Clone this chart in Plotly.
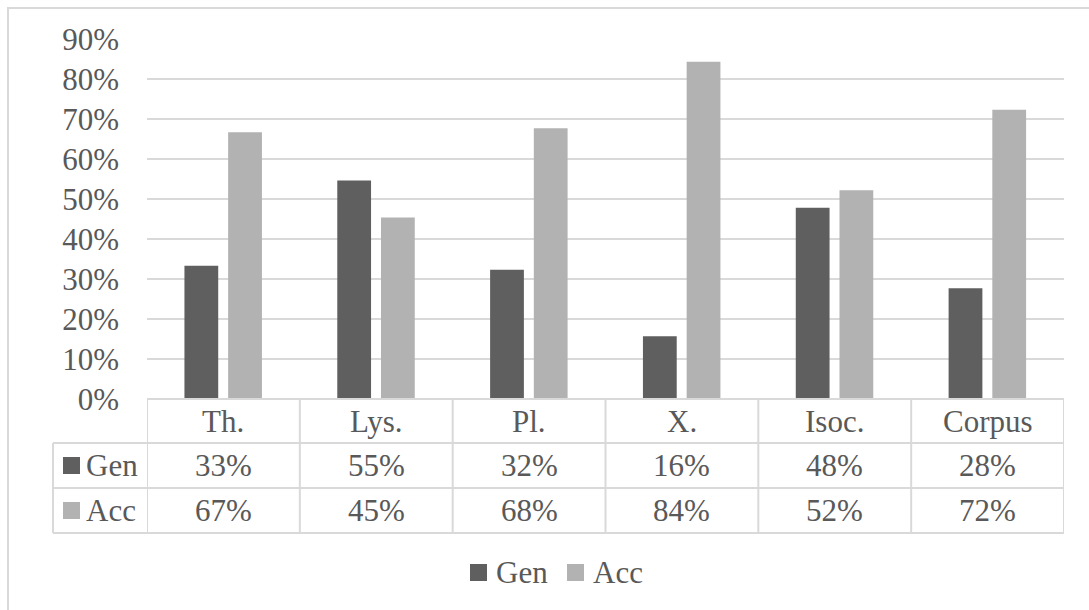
import plotly.graph_objects as go

# ---- data ----
categories = ["Th.", "Lys.", "Pl.", "X.", "Isoc.", "Corpus"]
series_names = ["Gen", "Acc"]
gen = [0.333, 0.546, 0.323, 0.157, 0.478, 0.277]
acc = [0.667, 0.454, 0.677, 0.843, 0.522, 0.723]
y_ticks = [0.0, 0.1, 0.2, 0.3, 0.4, 0.5, 0.6, 0.7, 0.8, 0.9]
y_tick_labels = ["0%", "10%", "20%", "30%", "40%", "50%", "60%", "70%", "80%", "90%"]

# ---- style / geometry (pixels) ----
W, H = 1089, 610
L, R, T, B = 147, 1064, 39, 399          # plot area
ROW_LINES = [443, 488, 533]              # data-table row separators
TABLE_LEFT = 53
GEN_COLOR = "#5f5f5f"
ACC_COLOR = "#b2b2b2"
LINE_COLOR = "#d9d9d9"
TEXT_COLOR = "#595959"
FONT = dict(family="Liberation Serif, Times New Roman, serif", size=31, color=TEXT_COLOR)
colors = [GEN_COLOR, ACC_COLOR]
series = [gen, acc]


def px(xp):
    return (xp - L) / (R - L)


def py(yp):
    return (B - yp) / (B - T)


def pct(v):
    return f"{int(v * 100 + 0.5)}%"


x_idx = list(range(len(categories)))
fig = go.Figure()
fig.add_trace(go.Bar(x=x_idx, y=gen, name="Gen", marker=dict(color=GEN_COLOR, line=dict(width=0)),
                     width=0.221, offset=-0.255, showlegend=False))
fig.add_trace(go.Bar(x=x_idx, y=acc, name="Acc", marker=dict(color=ACC_COLOR, line=dict(width=0)),
                     width=0.221, offset=0.031, showlegend=False))

shapes = []
annotations = []

# outer chart border
shapes.append(dict(type="rect", xref="paper", yref="paper", x0=px(8), x1=px(1100), y0=py(8), y1=py(620),
                   line=dict(color=LINE_COLOR, width=2), layer="below"))

# table: top line (axis baseline) and row separators
shapes.append(dict(type="line", xref="paper", yref="paper", x0=px(L), x1=px(R), y0=py(B), y1=py(B),
                   line=dict(color=LINE_COLOR, width=2)))
for yl in ROW_LINES:
    shapes.append(dict(type="line", xref="paper", yref="paper", x0=px(TABLE_LEFT), x1=px(R), y0=py(yl), y1=py(yl),
                       line=dict(color=LINE_COLOR, width=2)))
# table: vertical separators between categories
for k in range(len(categories) + 1):
    shapes.append(dict(type="line", xref="x", yref="paper", x0=k - 0.5, x1=k - 0.5, y0=py(B), y1=py(ROW_LINES[-1]),
                       line=dict(color=LINE_COLOR, width=2)))
shapes.append(dict(type="line", xref="paper", yref="paper", x0=px(TABLE_LEFT), x1=px(TABLE_LEFT),
                   y0=py(ROW_LINES[0]), y1=py(ROW_LINES[-1]), line=dict(color=LINE_COLOR, width=2)))

# category row
cat_mid = (B + ROW_LINES[0]) / 2
for i, c in enumerate(categories):
    annotations.append(dict(x=i, xref="x", y=py(cat_mid), yref="paper", text=c, showarrow=False,
                            xanchor="center", yanchor="middle", font=FONT))

# value rows with legend keys
row_mids = [(ROW_LINES[0] + ROW_LINES[1]) / 2, (ROW_LINES[1] + ROW_LINES[2]) / 2]
for name, vals, col, ym in zip(series_names, series, colors, row_mids):
    shapes.append(dict(type="rect", xref="paper", yref="paper", x0=px(63), x1=px(80), y0=py(ym - 8.5), y1=py(ym + 8.5),
                       fillcolor=col, line=dict(width=0)))
    annotations.append(dict(x=px(84), xref="paper", y=py(ym), yref="paper", text=name, showarrow=False,
                            xanchor="left", yanchor="middle", font=FONT))
    for i, v in enumerate(vals):
        annotations.append(dict(x=i, xref="x", y=py(ym), yref="paper", text=pct(v), showarrow=False,
                                xanchor="center", yanchor="middle", font=FONT))

# bottom legend
leg_y = 572.5
for name, col, x0 in zip(series_names, colors, [470, 567]):
    shapes.append(dict(type="rect", xref="paper", yref="paper", x0=px(x0), x1=px(x0 + 17),
                       y0=py(leg_y - 8.5), y1=py(leg_y + 8.5), fillcolor=col, line=dict(width=0)))
    annotations.append(dict(x=px(x0 + 24), xref="paper", y=py(leg_y), yref="paper", text=name, showarrow=False,
                            xanchor="left", yanchor="middle", font=FONT))

fig.update_layout(
    width=W, height=H,
    margin=dict(l=L, r=W - R, t=T, b=H - B, pad=0),
    paper_bgcolor="white", plot_bgcolor="white",
    font=FONT,
    shapes=shapes, annotations=annotations,
    showlegend=False,
    xaxis=dict(range=[-0.5, len(categories) - 0.5], showticklabels=False, showgrid=False,
               zeroline=False, showline=False, fixedrange=True),
    yaxis=dict(range=[0, 0.9], tickvals=y_ticks, ticktext=y_tick_labels, showgrid=True,
               gridcolor=LINE_COLOR, gridwidth=2, zeroline=False, showline=False, ticks="",
               ticklabelstandoff=27, tickfont=FONT, fixedrange=True),
)

fig.write_html("out.html", config={"displayModeBar": False})
